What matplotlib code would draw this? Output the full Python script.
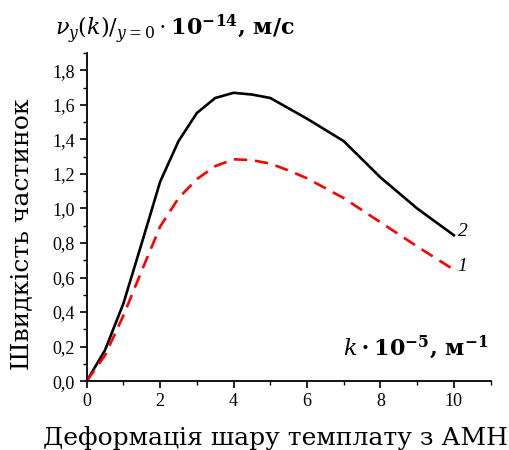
import matplotlib
matplotlib.use("Agg")
import matplotlib.pyplot as plt
from matplotlib.ticker import MultipleLocator, FuncFormatter

# curve 2 (solid black) and curve 1 (dashed red)
k_vals = [0, 0.5, 1, 1.5, 2, 2.5, 3, 3.5, 4, 4.5, 5, 5.5, 6, 7, 8, 9, 10]
v_curve2 = [0, 0.18, 0.45, 0.80, 1.155, 1.39, 1.553, 1.64, 1.67, 1.66, 1.64,
            1.58, 1.52, 1.39, 1.18, 1.0, 0.845]
v_curve1 = [0, 0.15, 0.38, 0.64, 0.895, 1.06, 1.17, 1.245, 1.285, 1.28, 1.26,
            1.22, 1.175, 1.06, 0.92, 0.78, 0.645]

plt.rcParams["font.family"] = ["DejaVu Serif"]
plt.rcParams["mathtext.fontset"] = "dejavuserif"

fig = plt.figure(figsize=(5.1, 4.5), dpi=100)
ax = fig.add_axes([0.170, 0.153, 0.792, 0.729])

ax.plot(k_vals, v_curve2, color="black", lw=1.9)
ax.plot(k_vals, v_curve1, color="#ff0000", lw=1.9, dashes=(5, 3))

ax.text(10.1, v_curve2[-1] + 0.02, "2", style="italic", fontsize=14,
        family="Liberation Serif", ha="left", va="center")
ax.text(10.1, v_curve1[-1] + 0.02, "1", style="italic", fontsize=14,
        family="Liberation Serif", ha="left", va="center")

ax.set_xlim(0, 11)
ax.set_ylim(0, 1.9)
ax.xaxis.set_major_locator(MultipleLocator(2))
ax.xaxis.set_minor_locator(MultipleLocator(1))
ax.yaxis.set_major_locator(MultipleLocator(0.2))
ax.yaxis.set_minor_locator(MultipleLocator(0.1))
ax.yaxis.set_major_formatter(FuncFormatter(lambda v, p: f"{v:.1f}".replace(".", ",")))
ax.xaxis.set_major_formatter(FuncFormatter(lambda v, p: f"{v:.0f}"))

for s in ["top", "right"]:
    ax.spines[s].set_visible(False)
for s in ["left", "bottom"]:
    ax.spines[s].set_linewidth(1.3)
ax.tick_params(which="major", direction="out", length=5, width=1.2,
               labelsize=13)
ax.tick_params(which="minor", direction="out", length=3, width=1.0)
for lab in ax.get_xticklabels() + ax.get_yticklabels():
    lab.set_family("Liberation Serif")

fig.text(0.108, 0.935, r"$\nu_y(\mathbf{\mathit{k}})/_{y=0}\cdot\mathbf{10^{-14}}$, м/с",
         fontsize=16, fontweight="bold", ha="left", va="center")
ax.text(0.995, 0.06, r"$\mathbf{\mathit{k}\cdot10^{-5}}$, м$^{\mathbf{-1}}$",
        transform=ax.transAxes, fontsize=16, fontweight="bold",
        ha="right", va="bottom")

fig.text(0.043, 0.48, "Швидкість частинок", rotation=90, fontsize=18,
         ha="center", va="center")
fig.text(0.54, 0.027, "Деформація шару темплату з АМН", fontsize=18,
         ha="center", va="center")

fig.savefig("out.png", dpi=100)
